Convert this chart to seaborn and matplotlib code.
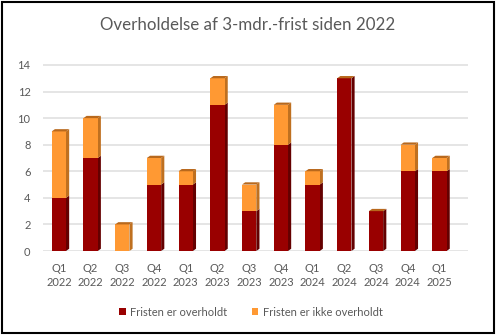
import matplotlib
matplotlib.use("Agg")
import matplotlib.pyplot as plt
from matplotlib.patches import Polygon, Patch, Rectangle
import seaborn as sns
import pandas as pd

quarters = ["Q1\n2022", "Q2\n2022", "Q3\n2022", "Q4\n2022", "Q1\n2023", "Q2\n2023",
            "Q3\n2023", "Q4\n2023", "Q1\n2024", "Q2\n2024", "Q3\n2024", "Q4\n2024", "Q1\n2025"]
overholdt = [4, 7, 0, 5, 5, 11, 3, 8, 5, 13, 3, 6, 6]
ikke_overholdt = [5, 3, 2, 2, 1, 2, 2, 3, 1, 0, 0, 2, 1]
y_ticks = [0, 2, 4, 6, 8, 10, 12, 14]

series_names = ["Fristen er overholdt", "Fristen er ikke overholdt"]
dark_red, dark_red_side = "#990000", "#640000"
orange, orange_side, top_face = "#FF9933", "#BF7020", "#B8681C"

sns.set_theme(style="white")
plt.rcParams["font.family"] = ["Lato", "DejaVu Sans"]
text_color = "#595959"

df = pd.DataFrame({"kvartal": quarters,
                   "overholdt": overholdt,
                   "total": [a + b for a, b in zip(overholdt, ikke_overholdt)]})

fig = plt.figure(figsize=(4.96, 3.35), dpi=100)
ax = fig.add_axes([43 / 496, 1 - 251 / 335, 425 / 496, 190 / 335])

# stacked bars: totals in orange, the met-deadline part in dark red on top
sns.barplot(data=df, x="kvartal", y="total", color=orange, saturation=1,
            width=0.45, ax=ax, zorder=3, edgecolor="none", linewidth=0)
n = len(ax.patches)
sns.barplot(data=df, x="kvartal", y="overholdt", color=dark_red, saturation=1,
            width=0.45, ax=ax, zorder=3, edgecolor="none", linewidth=0)

# pseudo-3D side and top faces derived from each bar's geometry
dx, dy = 0.1, 0.17
bars_total = ax.patches[:n]
bars_dark = ax.patches[n:2 * n]
for bt, bd in zip(bars_total, bars_dark):
    x0, w = bt.get_x(), bt.get_width()
    x1 = x0 + w
    h_dark, h_tot = bd.get_height(), bt.get_height()
    for y0, y1, c in [(0, h_dark, dark_red_side), (h_dark, h_tot, orange_side)]:
        if y1 > y0:
            ax.add_patch(Polygon([(x1, y0), (x1 + dx, y0 + dy), (x1 + dx, y1 + dy), (x1, y1)],
                                 closed=True, facecolor=c, edgecolor="none", zorder=2.9))
    ax.add_patch(Polygon([(x0, h_tot), (x0 + dx, h_tot + dy), (x1 + dx, h_tot + dy), (x1, h_tot)],
                         closed=True, facecolor=top_face, edgecolor="none", zorder=3.1))

ax.set_xlim(-0.5, 12.9)
ax.set_ylim(0, 14.3)
ax.set_yticks(y_ticks)
ax.yaxis.grid(True, color="#E0E0E0", linewidth=1.2, zorder=0)
ax.set_axisbelow(True)
for s in ax.spines.values():
    s.set_visible(False)
ax.set_xlabel("")
ax.set_ylabel("")
ax.tick_params(axis="x", length=0, pad=9, labelsize=8, labelcolor=text_color)
ax.tick_params(axis="y", length=0, pad=9, labelsize=8, labelcolor=text_color)
for lbl in ax.get_xticklabels():
    lbl.set_linespacing(1.25)

fig.text(0.5, 1 - 25 / 335, "Overholdelse af 3-mdr.-frist siden 2022", ha="center", va="center",
         fontsize=12.2, color=text_color)

handles = [Patch(facecolor=dark_red, edgecolor="none"), Patch(facecolor=orange, edgecolor="none")]
fig.legend(handles, series_names, loc="center", bbox_to_anchor=(0.506, 1 - 312 / 335), ncol=2,
           frameon=False, fontsize=8, handlelength=0.6, handleheight=0.6, handletextpad=0.4,
           columnspacing=2.2, labelcolor=text_color)

fig.patches.append(Rectangle((0.004, 0.006), 0.992, 0.988, transform=fig.transFigure,
                             fill=False, edgecolor="black", linewidth=1.5))

fig.savefig("out.png", dpi=100, facecolor="white")
